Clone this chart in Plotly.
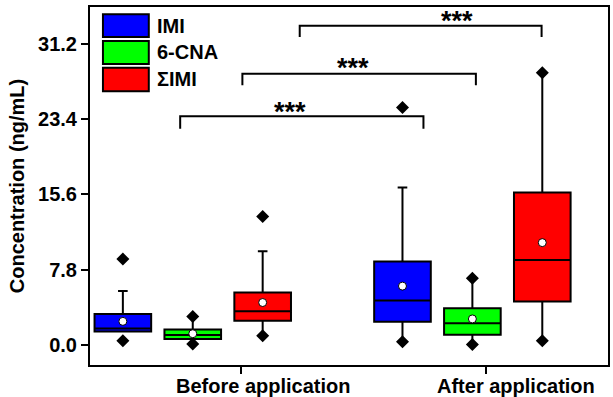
import plotly.graph_objects as go

# ---- data ----
series = ["IMI", "6-CNA", "ΣIMI"]
colors = ["#0000FF", "#00FF00", "#FF0000"]
positions = [[1, 5], [2, 6], [3, 7]]          # before, after
group_labels = ["Before application", "After application"]
group_label_pos = [3.0, 6.62]
group_tick_pos = [2.69, 6.2]

q1 = [[1.4, 2.4], [0.62, 1.07], [2.5, 4.5]]
median = [[1.7, 4.6], [1.03, 2.25], [3.5, 8.8]]
q3 = [[3.2, 8.65], [1.6, 3.8], [5.45, 15.8]]
mean = [[2.45, 6.1], [1.17, 2.7], [4.4, 10.6]]
lower_whisker = [[1.4, 0.35], [0.62, 0.05], [0.95, 0.45]]
upper_whisker = [[5.6, 16.3], [2.95, 6.9], [9.7, 28.2]]
minimum = [[0.45, 0.35], [0.1, 0.05], [0.95, 0.45]]
maximum = [[8.9, 24.6], [2.95, 6.9], [13.3, 28.2]]

yticks = [0.0, 7.8, 15.6, 23.4, 31.2]

# significance brackets: x start, x end, top y, leg bottom y, star x, star y
br_x0 = [1.82, 2.71, 3.53]
br_x1 = [5.30, 6.05, 6.99]
br_top = [23.7, 28.1, 33.06]
br_leg = [22.4, 26.9, 31.9]
star_x = [3.39, 4.29, 5.78]
star_y = [24.4, 29.0, 33.85]
star_text = ["***", "***", "***"]

FONT = "Liberation Sans, Arial, sans-serif"

fig = go.Figure()
for i, name in enumerate(series):
    fig.add_trace(go.Box(
        x=positions[i], q1=q1[i], median=median[i], q3=q3[i],
        lowerfence=lower_whisker[i], upperfence=upper_whisker[i],
        name=name, width=0.81, whiskerwidth=0.17,
        fillcolor=colors[i], line=dict(color="black", width=2),
        boxpoints=False, showlegend=False, hoverinfo="skip",
    ))
    fig.add_trace(go.Scatter(
        x=positions[i] + positions[i],
        y=minimum[i] + maximum[i],
        mode="markers", showlegend=False, hoverinfo="skip",
        marker=dict(symbol="diamond", size=10, color="black"),
    ))
    fig.add_trace(go.Scatter(
        x=positions[i], y=mean[i], mode="markers", showlegend=False,
        hoverinfo="skip",
        marker=dict(symbol="circle", size=8, color="white",
                    line=dict(color="black", width=1)),
    ))

shapes = []
annotations = []
for x0, x1, yt, yl, sx, sy, st in zip(br_x0, br_x1, br_top, br_leg, star_x, star_y, star_text):
    shapes.append(dict(type="path", xref="x", yref="y",
                       path=f"M {x0},{yl} L {x0},{yt} L {x1},{yt} L {x1},{yl}",
                       line=dict(color="black", width=2)))
    annotations.append(dict(x=sx, y=sy, xref="x", yref="y", text=f"<b>{st}</b>",
                            showarrow=False, yanchor="middle",
                            font=dict(family=FONT, size=27, color="black"),
                            yshift=-3))

# custom legend (paper coords)
leg_y = [(0.980, 0.916), (0.905, 0.841), (0.830, 0.765)]
for (ytop, ybot), c, name in zip(leg_y, colors, series):
    shapes.append(dict(type="rect", xref="paper", yref="paper",
                       x0=0.025, x1=0.1135, y0=ybot, y1=ytop,
                       fillcolor=c, line=dict(color="black", width=2)))
    annotations.append(dict(x=0.125, y=(ytop + ybot) / 2, xref="paper", yref="paper",
                            text=f"<b>{name}</b>", showarrow=False,
                            xanchor="left", yanchor="middle",
                            font=dict(family=FONT, size=20, color="black")))

for lbl, pos in zip(group_labels, group_label_pos):
    annotations.append(dict(x=pos, y=0, xref="x", yref="paper",
                            text=f"<b>{lbl}</b>", showarrow=False,
                            xanchor="center", yanchor="top", yshift=-8,
                            font=dict(family=FONT, size=20, color="black")))

fig.update_layout(
    width=613, height=397,
    margin=dict(l=90, r=3, t=7, b=32),
    paper_bgcolor="white", plot_bgcolor="white",
    boxmode="overlay",
    shapes=shapes, annotations=annotations,
    font=dict(family=FONT, color="black"),
    xaxis=dict(range=[0.53, 7.94], tickvals=group_tick_pos,
               ticktext=["", ""], ticks="outside", ticklen=7, tickwidth=2,
               tickcolor="black", showline=True, linecolor="black", linewidth=2,
               mirror=True, showgrid=False, zeroline=False),
    yaxis=dict(range=[-2.07, 35.0], tickvals=yticks,
               ticktext=[f"<b>{v:.1f}</b>" for v in yticks],
               ticks="outside", ticklen=7, tickwidth=2, tickcolor="black",
               tickfont=dict(family=FONT, size=20, color="black"),
               showline=True, linecolor="black", linewidth=2, mirror=True,
               showgrid=False, zeroline=False,
               title=dict(text="<b>Concentration (ng/mL)</b>",
                          font=dict(family=FONT, size=20, color="black"),
                          standoff=8)),
)

fig.write_html("out.html", config={"displayModeBar": False},
               post_script="document.body.style.margin='0';document.body.style.padding='0';")
